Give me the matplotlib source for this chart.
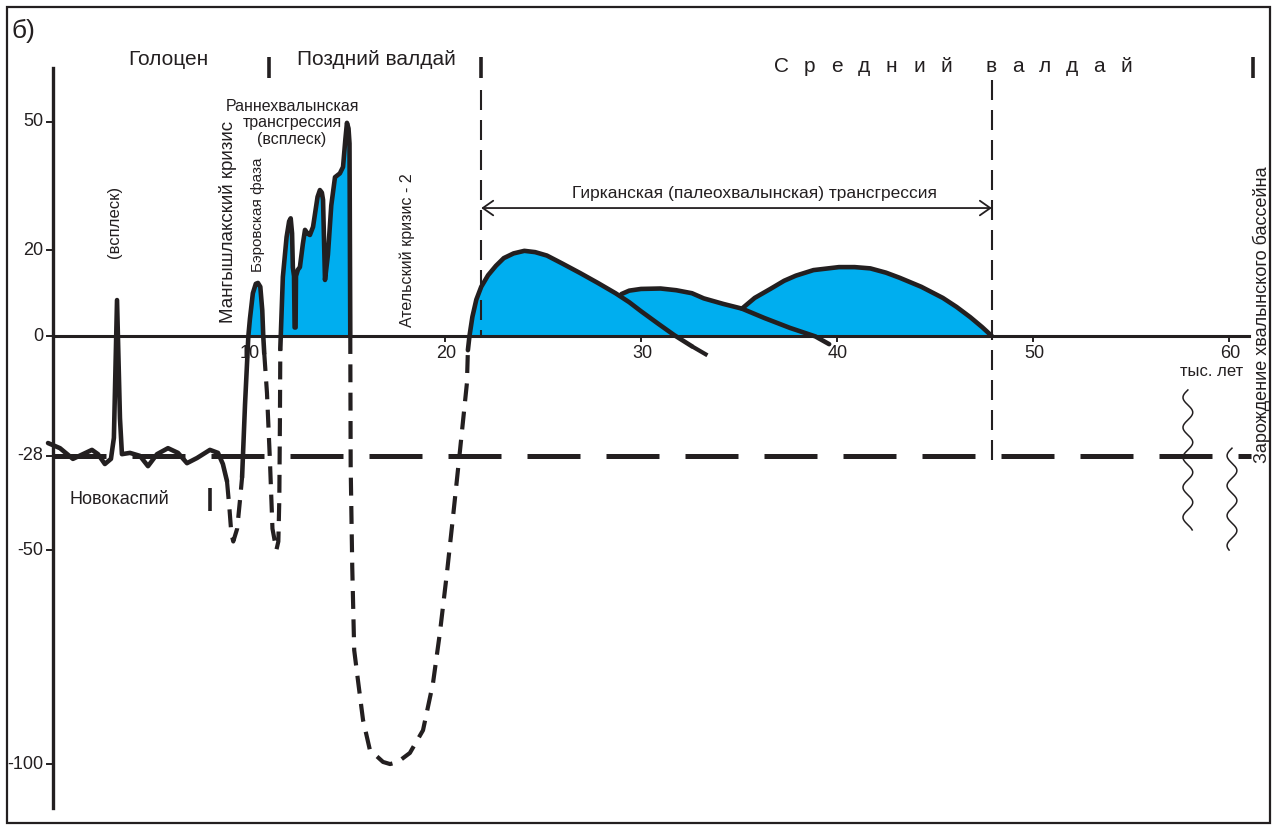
import numpy as np
import matplotlib.pyplot as plt
from matplotlib.patches import Rectangle

plt.rcParams['font.family'] = ['Liberation Sans', 'DejaVu Sans']

ink = '#231f20'
sea = '#00aeef'

# возраст (тыс. лет) / уровень (м)
level_base = -28

# новокаспий и всплеск
holo_age = [-0.25, 0.36, 1.02, 1.53, 1.99, 2.30, 2.65, 2.96, 3.11, 3.27, 3.42, 3.52, 3.93,
            4.44, 4.85, 5.31, 5.87, 6.38, 6.84, 7.35, 8.01, 8.42, 8.67, 8.88]
holo_lvl = [-25.0, -26.2, -28.7, -27.6, -26.6, -27.6, -29.9, -28.7, -23.8, 8.4, -19.2, -27.6, -27.3,
            -28.0, -30.4, -27.6, -26.2, -27.3, -29.7, -28.5, -26.6, -27.3, -29.9, -33.9]

# мангышлакский кризис (пунктир)
mang_age = [8.88, 9.0, 9.1, 9.2, 9.4, 9.55, 9.65]
mang_lvl = [-33.9, -40, -46, -48, -45, -38, -33]

# бэровская фаза
baer_age = [9.65, 9.8, 9.97, 10.05, 10.2, 10.35, 10.46, 10.58, 10.68, 10.73, 10.78]
baer_lvl = [-33, -16, 0, 4, 10, 12.2, 12.4, 11.5, 6, 0, -4]

# провал перед раннехвалынской (пунктир)
dip2_age = [10.78, 10.92, 11.07, 11.2, 11.4, 11.5, 11.55, 11.58, 11.6]
dip2_lvl = [-4, -13.3, -29, -45, -50, -48, -38, -20, -3]

# раннехвалынская трансгрессия
ekh_age = [11.6, 11.73, 11.92, 12.05, 12.13, 12.2, 12.24, 12.30, 12.33, 12.38, 12.40, 12.5, 12.6,
           12.75, 12.86, 13.0, 13.11, 13.27, 13.5, 13.62, 13.72, 13.78, 13.88, 14.03, 14.2, 14.39,
           14.64, 14.8, 14.92, 15.0, 15.08, 15.13, 15.17]
ekh_lvl = [-3, 13.8, 23.1, 26.8, 27.5, 24, 16, 14, 2, 2, 14, 15.5, 16.1,
           21.5, 24.8, 23.9, 23.6, 25.5, 32.5, 34.1, 33.5, 31.8, 13.1, 19.0, 30.5, 37.1,
           38, 39.5, 46, 49.8, 48.5, 45, 0]

# ательский кризис (пунктир)
atel_age = [15.17, 15.19, 15.27, 15.37, 15.58, 15.82, 16.17, 16.84, 17.2, 17.60, 18.21, 18.88,
            19.39, 19.74, 20.10, 20.41, 20.77, 21.12, 21.17]
atel_lvl = [0, -30.5, -53.9, -73.4, -81.1, -89.7, -96.7, -99.5, -100, -99.5, -97.4, -92.1,
            -81.1, -69.4, -55.4, -42.3, -26.6, -11.0, -3.3]

# гирканская трансгрессия
hyr1_age = [21.17, 21.25, 21.4, 21.6, 21.85, 22.2, 22.6, 23.0, 23.5, 24.05, 24.6, 25.2, 26.0,
            26.9, 27.8, 28.7, 29.4, 30.0, 30.9, 31.7, 32.6]
hyr1_lvl = [-3.3, 0, 4.5, 8.5, 11.5, 14.2, 16.4, 18.2, 19.3, 19.9, 19.6, 18.8, 16.9,
            14.7, 12.4, 10, 7.9, 5.8, 2.8, 0.2, -2.4]
hyr1_tail_age = [32.6, 33.8]
hyr1_tail_lvl = [-2.4, -5.6]
hyr2_age = [29.0, 29.4, 30.0, 31.0, 31.8, 32.6, 33.2, 34.2, 35.15, 36.3, 37.6, 38.9, 39.6]
hyr2_lvl = [9.8, 10.6, 11, 11.1, 10.7, 10, 8.8, 7.5, 6.4, 4.2, 1.9, -0.1, -1.9]
hyr3_age = [35.15, 35.8, 36.6, 37.3, 37.9, 38.8, 40.1, 40.9, 41.7, 42.5, 43.2, 44.3, 45.4,
            46.1, 46.8, 47.4, 47.9]
hyr3_lvl = [6.4, 8.9, 11, 12.9, 14.1, 15.4, 16.1, 16.1, 15.8, 14.8, 13.6, 11.5, 8.9,
            6.8, 4.4, 2.1, 0]

yticks = [50, 20, 0, -28, -50, -100]
xticks = [10, 20, 30, 40, 50, 60]
bounds = [11.0, 21.85, 61.2]
hyr_start, hyr_end = 21.85, 47.9

fig = plt.figure(figsize=(12.8, 8.3), dpi=100)
ax = fig.add_axes([0, 0, 1, 1])
ax.set_xlim(-2.70, 62.60)
ax.set_ylim(-115.4, 78.5)
ax.axis('off')

# рамка
fig.patches.append(Rectangle((0.0055, 0.0084), 0.987, 0.983, transform=fig.transFigure,
                             fill=False, lw=1.6, edgecolor=ink))
fig.text(0.009, 0.963, 'б)', fontsize=19, va='center', color=ink)

# заливка трансгрессий
for a, l in [(baer_age, baer_lvl), (ekh_age, ekh_lvl), (hyr1_age, hyr1_lvl),
             (hyr2_age, hyr2_lvl), (hyr3_age, hyr3_lvl)]:
    a = np.array(a); l = np.array(l)
    ax.fill_between(a, l, 0, where=l > 0, interpolate=True, color=sea, lw=0, zorder=1)

# оси
ax.plot([0, 0], [-110.3, 62.6], color=ink, lw=2.4, zorder=2)
ax.plot([0, 61.0], [0, 0], color=ink, lw=2.2, zorder=2)
for v in yticks:
    ax.plot([-0.3, 0], [v, v], color=ink, lw=1.4)
    ax.text(-0.5, v, str(v), ha='right', va='center', fontsize=13, color=ink)
for t in xticks:
    ax.plot([t, t], [0, -1.2], color=ink, lw=1.4)
    ax.text(t + 0.05, -2.0, str(t), ha='center', va='top', fontsize=13, color=ink)

# уровень -28
ax.plot([0, 61.1], [level_base, level_base], color=ink, lw=3.6,
        dashes=(10.6, 5.2), solid_capstyle='butt', zorder=2)

# границы
ax.plot([hyr_start, hyr_start], [57.5, 0], color=ink, lw=1.5, dashes=(9.6, 4.8), zorder=2)
ax.plot([hyr_end, hyr_end], [59.8, -31.3], color=ink, lw=1.5, dashes=(9.6, 4.8), zorder=2)
for b in bounds:
    ax.plot([b, b], [65.2, 60.3], color=ink, lw=2.6, solid_capstyle='butt')

# кривые
solid = dict(color=ink, lw=3.3, solid_joinstyle='round', solid_capstyle='round', zorder=4)
dash = dict(color=ink, lw=3.0, dashes=(4.3, 2.5), zorder=4)
ax.plot(holo_age, holo_lvl, **solid)
ax.plot(mang_age, mang_lvl, **dash)
ax.plot(baer_age, baer_lvl, **solid)
ax.plot(dip2_age, dip2_lvl, **dash)
ax.plot(ekh_age, ekh_lvl, **solid)
ax.plot(atel_age, atel_lvl, **dash)
ax.plot(hyr1_age, hyr1_lvl, **solid)
ax.plot(hyr1_tail_age, hyr1_tail_lvl, **dash)
ax.plot(hyr2_age, hyr2_lvl, **solid)
ax.plot(hyr3_age, hyr3_lvl, **solid)

# стрелка гирканской трансгрессии
ax.annotate('', xy=(hyr_start, 29.9), xytext=(hyr_end, 29.9),
            arrowprops=dict(arrowstyle='<->,head_length=0.5,head_width=0.35', lw=1.3,
                            color=ink, mutation_scale=15, shrinkA=0, shrinkB=0))
ax.text(35.8, 33.4, 'Гирканская (палеохвалынская) трансгрессия', ha='center', va='center',
        fontsize=12.5, color=ink)

# подписи эпох
ax.text(5.87, 64.5, 'Голоцен', ha='center', va='center', fontsize=15, color=ink)
ax.text(16.5, 64.5, 'Поздний валдай', ha='center', va='center', fontsize=15, color=ink)
for i, ch in enumerate('Средний'):
    ax.text(37.19 + i * 1.40, 63.0, ch, ha='center', va='center', fontsize=15, color=ink)
for i, ch in enumerate('валдай'):
    ax.text(47.86 + i * 1.38, 63.0, ch, ha='center', va='center', fontsize=15, color=ink)

ax.text(12.2, 49.8, 'Раннехвалынская\nтрансгрессия\n(всплеск)', ha='center', va='center',
        fontsize=11.5, linespacing=1.15, color=ink)
ax.text(8.93, 26.6, 'Мангышлакский кризис', rotation=90, ha='center', va='center',
        fontsize=13.5, color=ink)
ax.text(10.46, 28.3, 'Бэровская фаза', rotation=90, ha='center', va='center',
        fontsize=11, color=ink)
ax.text(3.16, 26.6, '(всплеск)', rotation=90, ha='center', va='center', fontsize=12, color=ink)
ax.text(18.1, 20.1, 'Ательский кризис - 2', rotation=90, ha='center', va='center',
        fontsize=11.5, color=ink)
ax.text(0.87, -38.3, 'Новокаспий', ha='left', va='center', fontsize=13, color=ink)
ax.text(60.7, -8.4, 'тыс. лет', ha='right', va='center', fontsize=12, color=ink)
ax.text(61.65, 5.1, 'Зарождение хвалынского бассейна', rotation=90, ha='center', va='center',
        fontsize=13, color=ink)

# значок разрыва (волнистые линии)
for xc, top, bot in [(57.9, -12.6, -45.3), (60.15, -26.2, -50.0)]:
    wy = np.linspace(top, bot, 200)
    wx = xc + 0.25 * np.sin((wy - top) / 7.0 * 2 * np.pi)
    ax.plot(wx, wy, color=ink, lw=1.1)

# отметка под новокаспием
ax.plot([8.02, 8.02], [-35.4, -40.8], color=ink, lw=2.6, solid_capstyle='butt')

fig.savefig('out.png', dpi=100)
